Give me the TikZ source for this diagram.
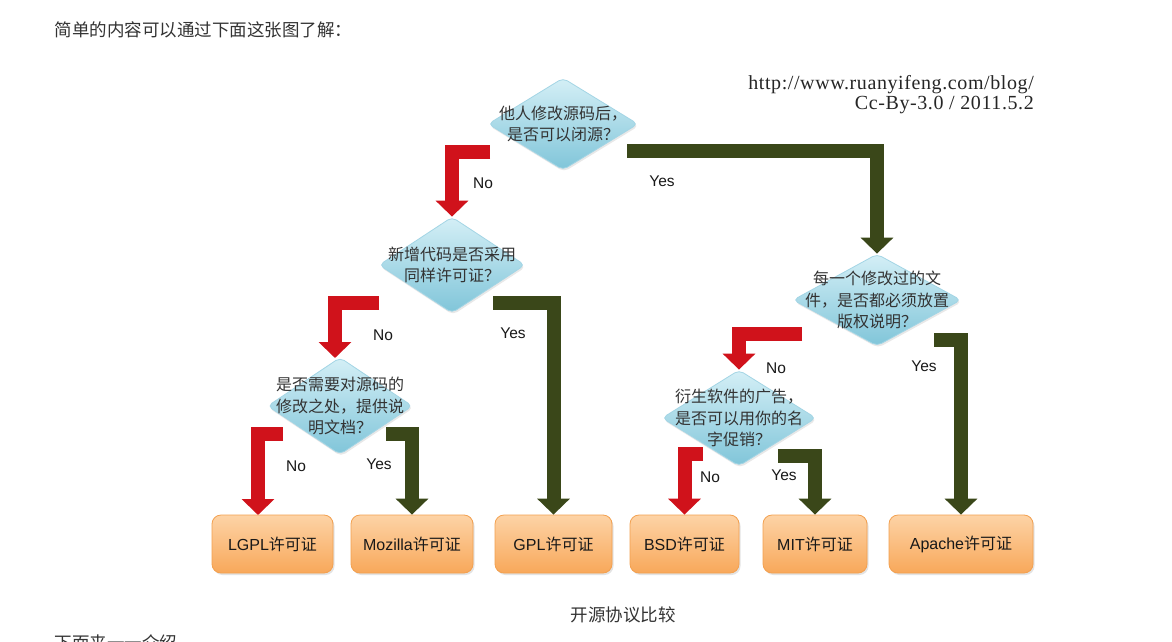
\documentclass[tikz,border=0pt]{standalone}
\usepackage{fontspec}
\setmainfont{Liberation Sans}
\newfontfamily\cjk{Noto Sans CJK SC}
\newfontfamily\urlserif[LetterSpace=3]{Liberation Serif}
\usetikzlibrary{shapes.geometric,arrows.meta,shadows}
\definecolor{dtop}{HTML}{D4EFF6}
\definecolor{dbot}{HTML}{80C5D9}
\definecolor{dborder}{HTML}{A3D5E5}
\definecolor{otop}{HTML}{FDD3A6}
\definecolor{obot}{HTML}{F8A85A}
\definecolor{oborder}{HTML}{F3A04F}
\definecolor{noRed}{HTML}{D0121B}
\definecolor{yesGreen}{HTML}{3A4719}
\definecolor{txt}{HTML}{333333}
\tikzset{
  dia/.style={diamond, draw=dborder, line width=0.8pt, top color=dtop, bottom color=dbot,
    rounded corners=5pt, inner sep=0pt, drop shadow={opacity=0.18, shadow xshift=1pt, shadow yshift=-2pt}},
  dtext/.style={align=center, font=\cjk\fontsize{16}{21.5}\selectfont, text=txt},
  lic/.style={rounded corners=9pt, draw=oborder, line width=0.8pt, top color=otop, bottom color=obot,
    minimum height=58pt, inner sep=0pt, font=\fontsize{16}{19}\selectfont, text=black!90,
    drop shadow={opacity=0.22, shadow xshift=1.5pt, shadow yshift=-2pt}},
  lbl/.style={font=\fontsize{15.5}{18}\selectfont, text=black!90},
  arr/.style={line width=14pt, -{Triangle[width=32pt,length=16pt]}},
  noarr/.style={arr, draw=noRed},
  yesarr/.style={arr, draw=yesGreen},
  cjktext/.style={font=\cjk\fontsize{17.5}{21}\selectfont, text=txt}
}
\begin{document}
\begin{tikzpicture}[x=1pt,y=-1pt]
\path[use as bounding box, fill=white] (0,0) rectangle (1172,642);

% page texts
\node[cjktext, anchor=west] (hdr) at (51,30) {简单的内容可以通过下面这张图了解：};
\node[cjktext] (cap) at (623,615) {开源协议比较};
\node[cjktext, anchor=west] (nxt) at (51,643) {下面来一一介绍};

% credit
\node[anchor=east, font=\urlserif\fontsize{20}{22}\selectfont, text=black!85, inner sep=0pt] (url) at (1034,85) {http://www.ruanyifeng.com/blog/};
\node[anchor=east, font=\urlserif\fontsize{20}{22}\selectfont, text=black!85, inner sep=0pt] (lic) at (1034,105) {Cc-By-3.0 / 2011.5.2};

% decision diamonds
\node[dia, minimum width=150pt, minimum height=92pt] (d1) at (563,124) {};
\node[dtext] (t1) at (d1) {他人修改源码后，\\是否可以闭源？};
\node[dia, minimum width=146pt, minimum height=96pt] (d2) at (452,265) {};
\node[dtext] (t2) at (d2) {新增代码是否采用\\同样许可证？};
\node[dia, minimum width=145pt, minimum height=97pt] (d3) at (340,406) {};
\node[dtext] (t3) at (d3) {是否需要对源码的\\修改之处，提供说\\明文档？};
\node[dia, minimum width=168pt, minimum height=92pt] (d4) at (877,300) {};
\node[dtext] (t4) at (d4) {每一个修改过的文\\件，是否都必须放置\\版权说明？};
\node[dia, minimum width=154pt, minimum height=96pt] (d5) at (739,418) {};
\node[dtext] (t5) at (d5) {衍生软件的广告，\\是否可以用你的名\\字促销？};

% licences
\node[lic, minimum width=121pt] (lgpl) at (272.5,544) {LGPL{\cjk 许可证}};
\node[lic, minimum width=122pt] (moz) at (412,544) {Mozilla{\cjk 许可证}};
\node[lic, minimum width=117pt] (gpl) at (553.5,544) {GPL{\cjk 许可证}};
\node[lic, minimum width=109pt] (bsd) at (684.5,544) {BSD{\cjk 许可证}};
\node[lic, minimum width=104pt] (mit) at (815,544) {MIT{\cjk 许可证}};
\node[lic, minimum width=144pt] (apache) at (961,544) {Apache{\cjk 许可证}};

% connector start points and free ends
\coordinate (s1) at (490,152);
\coordinate (s2) at (627,151);
\coordinate (s3) at (379,303);
\coordinate (e3) at (335,358);
\coordinate (s4) at (493,303);
\coordinate (s5) at (283,434);
\coordinate (e5) at (258,515);
\coordinate (s6) at (386,434);
\coordinate (s7) at (802,334);
\coordinate (s8) at (934,340);
\coordinate (s9) at (703,454);
\coordinate (s10) at (778,456);

% connectors
\draw[noarr] (s1) -| (d2.north);
\draw[yesarr] (s2) -| (d4.north);
\draw[noarr] (s3) -| (e3);
\draw[yesarr] (s4) -| (gpl.north);
\draw[noarr] (s5) -| (e5);
\draw[yesarr] (s6) -| (moz.north);
\draw[noarr] (s7) -| (d5.north);
\draw[yesarr] (s8) -| (apache.north);
\draw[noarr] (s9) -| (bsd.north);
\draw[yesarr] (s10) -| (mit.north);

% labels
\node[lbl] (n1) at (483,183) {No};
\node[lbl] (y1) at (662,181) {Yes};
\node[lbl] (n2) at (383,335) {No};
\node[lbl] (y2) at (513,333) {Yes};
\node[lbl] (n3) at (296,466) {No};
\node[lbl] (y3) at (379,464) {Yes};
\node[lbl] (n4) at (776,368) {No};
\node[lbl] (y4) at (924,366) {Yes};
\node[lbl] (n5) at (710,477) {No};
\node[lbl] (y5) at (784,475) {Yes};
\end{tikzpicture}
\end{document}
